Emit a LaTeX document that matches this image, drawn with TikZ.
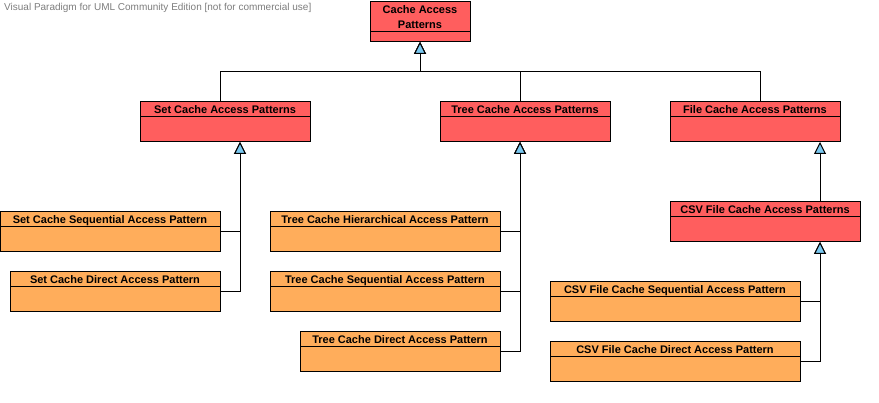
\documentclass[tikz,border=0pt]{standalone}
\usepackage{fontspec}
\setmainfont{Liberation Sans}
\usetikzlibrary{arrows.meta}
\definecolor{clsred}{RGB}{255,94,94}
\definecolor{clsorange}{RGB}{255,173,91}
\definecolor{tri}{RGB}{122,200,240}
\definecolor{wm}{RGB}{125,125,125}
\tikzset{
  cls/.style={draw=black, line width=1pt, rectangle, inner sep=0pt, outer sep=0pt,
    minimum height=40pt,
    path picture={\draw[line width=1pt] ([yshift=-#1]path picture bounding box.north west) -- ([yshift=-#1]path picture bounding box.north east);}},
  cls/.default=15pt,
  redcls/.style={cls, fill=clsred},
  orcls/.style={cls, fill=clsorange},
  hdr/.style={font=\bfseries\fontsize{11pt}{15pt}\selectfont, anchor=base, inner sep=0pt, align=center},
  gen/.style={draw=black, line width=1pt, line join=miter,
    -{Triangle[width=12pt, length=12pt, fill=tri]}},
}
\begin{document}
\begin{tikzpicture}[x=1pt, y=-1pt]
\useasboundingbox (0,0) rectangle (879,403);
\node[anchor=base west, inner sep=0pt, text=wm, font=\fontsize{10pt}{12pt}\selectfont] (wmark) at (4,11) {Visual Paradigm for UML Community Edition [not for commercial use]};

% classes
\node[cls=30pt, fill=clsred, minimum width=100pt] (top) at (420,22) {};
\node[hdr] (top-t) at (420,29) {Cache Access\\Patterns};

\node[redcls, minimum width=170pt] (set) at (225,122) {};
\node[hdr] (set-t) at ([yshift=-12pt]set.north) {Set Cache Access Patterns};
\node[redcls, minimum width=170pt] (tree) at (525,122) {};
\node[hdr] (tree-t) at ([yshift=-12pt]tree.north) {Tree Cache Access Patterns};
\node[redcls, minimum width=170pt] (file) at (755,122) {};
\node[hdr] (file-t) at ([yshift=-12pt]file.north) {File Cache Access Patterns};
\node[redcls, minimum width=190pt] (csv) at (765,222) {};
\node[hdr] (csv-t) at ([yshift=-12pt]csv.north) {CSV File Cache Access Patterns};

\node[orcls, minimum width=220pt] (setseq) at (110,232) {};
\node[hdr] (setseq-t) at ([yshift=-12pt]setseq.north) {Set Cache Sequential Access Pattern};
\node[orcls, minimum width=210pt] (setdir) at (115,292) {};
\node[hdr] (setdir-t) at ([yshift=-12pt]setdir.north) {Set Cache Direct Access Pattern};

\node[orcls, minimum width=230pt] (treehier) at (385,232) {};
\node[hdr] (treehier-t) at ([yshift=-12pt]treehier.north) {Tree Cache Hierarchical Access Pattern};
\node[orcls, minimum width=230pt] (treeseq) at (385,292) {};
\node[hdr] (treeseq-t) at ([yshift=-12pt]treeseq.north) {Tree Cache Sequential Access Pattern};
\node[orcls, minimum width=200pt] (treedir) at (400,352) {};
\node[hdr] (treedir-t) at ([yshift=-12pt]treedir.north) {Tree Cache Direct Access Pattern};

\node[orcls, minimum width=250pt] (csvseq) at (675,302) {};
\node[hdr] (csvseq-t) at ([yshift=-12pt]csvseq.north) {CSV File Cache Sequential Access Pattern};
\node[orcls, minimum width=250pt] (csvdir) at (675,362) {};
\node[hdr] (csvdir-t) at ([yshift=-12pt]csvdir.north) {CSV File Cache Direct Access Pattern};

% generalizations
\draw[gen] ([xshift=-5pt]set.north) |- ([yshift=-30pt]top.south) -- (top.south);
\draw[gen] ([xshift=-5pt]tree.north) |- ([yshift=-30pt]top.south) -- (top.south);
\draw[gen] ([xshift=5pt]file.north) |- ([yshift=-30pt]top.south) -- (top.south);

\draw[gen] (setseq.east) -| ([xshift=15pt]set.south);
\draw[gen] (setdir.east) -| ([xshift=15pt]set.south);

\draw[gen] (treehier.east) -| ([xshift=-5pt]tree.south);
\draw[gen] (treeseq.east) -| ([xshift=-5pt]tree.south);
\draw[gen] (treedir.east) -| ([xshift=-5pt]tree.south);

\draw[gen] ([xshift=55pt]csv.north) -- ([xshift=65pt]file.south);
\draw[gen] (csvseq.east) -| ([xshift=55pt]csv.south);
\draw[gen] (csvdir.east) -| ([xshift=55pt]csv.south);
\end{tikzpicture}
\end{document}
